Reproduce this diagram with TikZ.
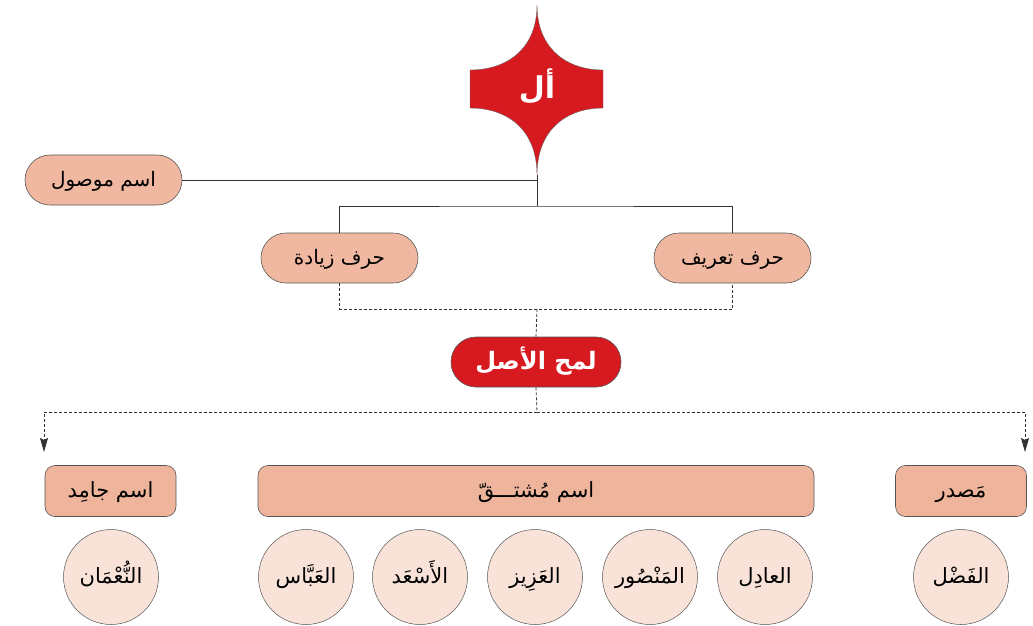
\documentclass[tikz,border=0pt]{standalone}
\usepackage{fontspec}
\usetikzlibrary{arrows.meta}
\TeXXeTstate=1
\newfontfamily\arabicfont[Script=Arabic]{DejaVu Sans}
\definecolor{redc}{HTML}{D71920}
\definecolor{pillc}{HTML}{F0B8A0}
\definecolor{boxc}{HTML}{EEB59C}
\definecolor{circc}{HTML}{F9E3D9}
\definecolor{edgec}{HTML}{555555}
\tikzset{
  lowtext/.style={text height=15pt, text depth=2pt},
  pill/.style={draw=edgec, line width=0.6pt, fill=pillc, rounded corners=25pt,
    minimum width=157pt, minimum height=50pt, inner sep=0pt, lowtext,
    font=\arabicfont\fontsize{20}{24}\selectfont},
  redpill/.style={draw=edgec, line width=0.6pt, fill=redc, rounded corners=25pt,
    minimum width=170pt, minimum height=50pt, inner sep=0pt, text=white,
    text height=17pt, text depth=2pt,
    font=\arabicfont\bfseries\fontsize{24}{28}\selectfont},
  catbox/.style={draw=edgec, line width=0.6pt, fill=boxc, rounded corners=10pt,
    minimum height=51pt, inner sep=0pt, lowtext,
    font=\arabicfont\fontsize{21}{25}\selectfont},
  word/.style={circle, draw=edgec, line width=0.5pt, fill=circc,
    minimum size=95pt, inner sep=0pt, lowtext,
    font=\arabicfont\fontsize{21}{25}\selectfont},
  conn/.style={draw=black!80, line width=0.8pt},
  dconn/.style={draw=black!80, line width=0.8pt, dash pattern=on 3pt off 2pt},
  arr/.style={-{Stealth[length=14pt,width=8pt,inset=2pt]}}
}
\begin{document}
\begin{tikzpicture}[x=1pt,y=-1pt]
\useasboundingbox (0,0) rectangle (1033,625);
% star
\filldraw[fill=redc, draw=black!60, line width=0.4pt]
  (537,5) .. controls (537,48) and (508,70) .. (470,70) -- (470,108)
  .. controls (508,108) and (537,130) .. (537,175)
  .. controls (537,130) and (566,108) .. (603,108) -- (603,70)
  .. controls (566,70) and (537,48) .. (537,5) -- cycle;
\node[text=white, text height=20pt, text depth=2pt, font=\arabicfont\bfseries\fontsize{30}{34}\selectfont] (al) at (537,89) {\beginR أل\endR};
\coordinate (starbot) at (537,175);
% nodes
\node[pill] (mawsul) at (103.5,180) {\beginR اسم موصول\endR};
\node[pill] (zaida) at (339.5,258) {\beginR حرف زيادة\endR};
\node[pill] (tarif) at (732.5,258) {\beginR حرف تعريف\endR};
\node[redpill] (asl) at (536,362) {\beginR لمح الأصل\endR};
\node[catbox, minimum width=131pt] (jamid) at (110.5,491) {\beginR اسم جامِد\endR};
\node[catbox, minimum width=556pt] (mushtaq) at (536,491) {\beginR اسم مُشتـــقّ\endR};
\node[catbox, minimum width=131pt] (masdar) at (961,491) {\beginR مَصدر\endR};
\node[word] (w1) at (111,577) {\beginR النُّعْمَان\endR};
\node[word] (w2) at (306,577) {\beginR العَبَّاس\endR};
\node[word] (w3) at (420,577) {\beginR الأَسْعَد\endR};
\node[word] (w4) at (535,577) {\beginR العَزِيز\endR};
\node[word] (w5) at (650,577) {\beginR المَنْصُور\endR};
\node[word] (w6) at (765,577) {\beginR العادِل\endR};
\node[word] (w7) at (961,577) {\beginR الفَضْل\endR};
% connectors
\coordinate (j1) at (537,206);
\coordinate (j2) at (537,309);
\coordinate (j3) at (537,412);
\coordinate (aL) at (44,452);
\coordinate (aR) at (1025,452);
\draw[conn] (starbot) |- (mawsul.east);
\draw[conn] (starbot) -- (j1);
\draw[conn] (zaida.north) |- (j1) -| (tarif.north);
\draw[dconn] (zaida.south) |- (j2) -| (tarif.south);
\draw[dconn] (j2) -- (asl.north);
\draw[dconn] (asl.south) -- (j3);
\draw[dconn, arr] (j3) -| (aL);
\draw[dconn, arr] (j3) -| (aR);
\end{tikzpicture}
\end{document}
